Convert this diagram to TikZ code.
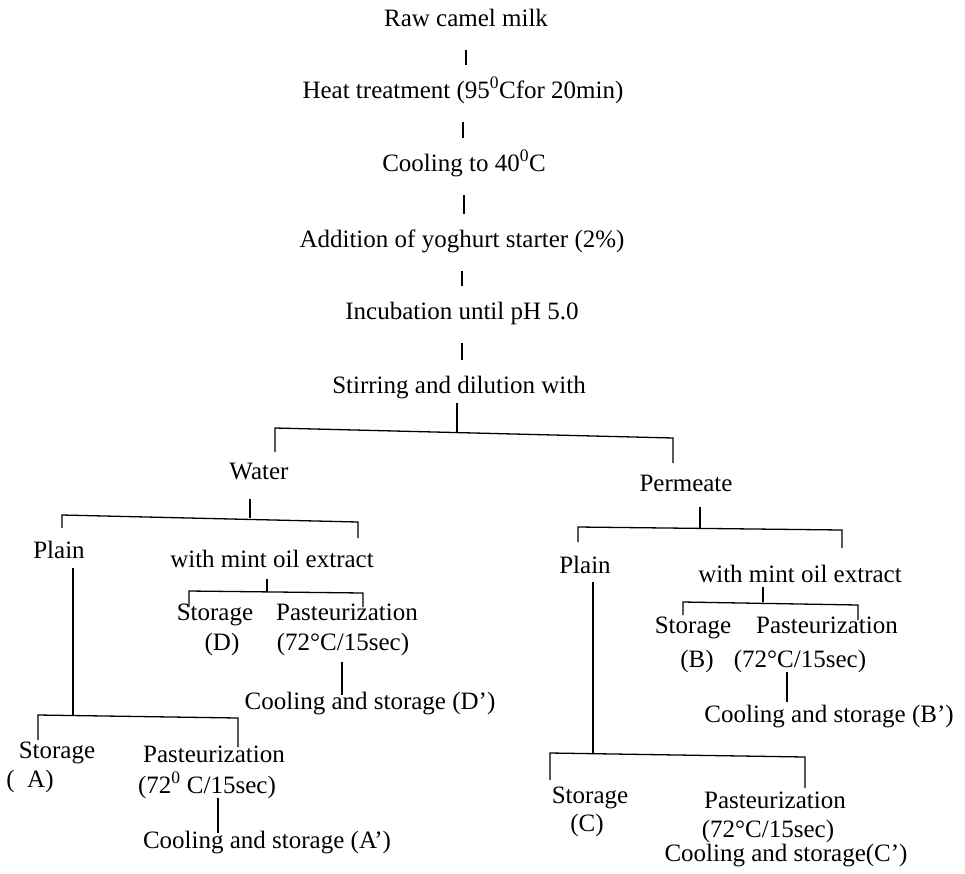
\documentclass[tikz,border=0pt]{standalone}
\usepackage{fontspec}
\setmainfont{Liberation Serif}
\begin{document}
\begin{tikzpicture}[x=1pt,y=-1pt,
  txt/.style={font=\fontsize{25}{29}\selectfont, inner sep=0pt, outer sep=0pt, text height=16pt, text depth=4pt, anchor=center},
  conn/.style={line width=1.3pt, black},
  link/.style={conn, shorten <=20pt, shorten >=17pt}]
\useasboundingbox (0,0) rectangle (965,873);
% main chain
\node[txt] (raw)  at (466,20)  {Raw camel milk};
\node[txt] (heat) at (463,92)  {Heat treatment (95\textsuperscript{0}Cfor 20min)};
\node[txt] (cool) at (464,165) {Cooling to 40\textsuperscript{0}C};
\node[txt] (add)  at (462,241) {Addition of yoghurt starter (2\%)};
\node[txt] (inc)  at (462,313) {Incubation until pH 5.0};
\node[txt] (stir) at (459,387) {Stirring and dilution with};
\draw[link] (raw.south) -- (raw.south |- heat.north);
\draw[link] (heat.south) -- (heat.south |- cool.north);
\draw[link] (cool.south) -- (cool.south |- add.north);
\draw[link] (add.south) -- (add.south |- inc.north);
\draw[link] (inc.south) -- (inc.south |- stir.north);
% second level
\node[txt] (water) at (259,473) {Water};
\node[txt] (perm)  at (686,485) {Permeate};
\coordinate (f1) at (457,433);
\coordinate (f1l) at (275,428);
\coordinate (f1r) at (673,438);
\coordinate (f1ld) at (275,452);
\coordinate (f1rd) at (673,463);
\draw[conn] ([yshift=-6pt]stir.south -| f1) -- (f1);
\draw[conn] (f1ld) -- (f1l) -- (f1r) -- (f1rd);
% water fork
\node[txt] (plainL) at (59,552)  {Plain};
\node[txt] (mintL)  at (272,561) {with mint oil extract};
\coordinate (f2) at (250,518);
\coordinate (f2l) at (62,515);
\coordinate (f2r) at (358,522);
\draw[conn] ([yshift=-16pt]water.south -| f2) -- (f2);
\draw[conn] (62,528) -- (f2l) -- (f2r) -- (358,538);
% mint left fork
\node[txt] (storD)  at (215,614) {Storage};
\node[txt] (storDl) at (222,644) {(D)};
\node[txt] (pastD)  at (347,614) {Pasteurization};
\node[txt] (pastDl) at (343,644) {(72°C/15sec)};
\node[txt] (coolD)  at (370,703) {Cooling and storage (D')};
\coordinate (f3) at (267,592);
\draw[conn] ([yshift=-8pt]mintL.south -| f3) -- (f3);
\draw[conn] (189,607) -- (189,591) -- (363,593) -- (363,607);
\draw[conn] ([yshift=-8pt]pastDl.south -| 342,0) -- ([yshift=-2pt]coolD.north -| 342,0);
% plain left fork
\node[txt] (storA)  at (57,752)  {Storage};
\node[txt] (storAl) at (30,781)  {( \ A)};
\node[txt] (pastA)  at (214,756) {Pasteurization};
\node[txt] (pastAl) at (207,787) {(72\textsuperscript{0} C/15sec)};
\node[txt] (coolA)  at (267,842) {Cooling and storage (A')};
\coordinate (f4) at (73,715);
\draw[conn] ([yshift=-6pt]plainL.south -| f4) -- (f4);
\draw[conn] (38,740) -- (38,715) -- (238,718) -- (238,747);
\draw[conn] ([yshift=-1pt]pastAl.south -| 218,0) -- ([yshift=-1pt]coolA.north -| 218,0);
% permeate fork
\node[txt] (plainR) at (585,567) {Plain};
\node[txt] (mintR)  at (800,576) {with mint oil extract};
\coordinate (f5) at (700,528);
\draw[conn] ([yshift=-12pt]perm.south -| f5) -- (f5);
\draw[conn] (578,542) -- (578,527) -- (842,530) -- (842,548);
% mint right fork
\node[txt] (storB)  at (693,627) {Storage};
\node[txt] (storBl) at (697,661) {(B)};
\node[txt] (pastB)  at (827,627) {Pasteurization};
\node[txt] (pastBl) at (800,661) {(72°C/15sec)};
\node[txt] (coolB)  at (829,716) {Cooling and storage (B')};
\coordinate (f6) at (763,602);
\draw[conn] ([yshift=-1pt]mintR.south -| f6) -- (f6);
\draw[conn] (683,615) -- (683,602) -- (858,605) -- (858,620);
\draw[conn] ([yshift=-1pt]pastBl.south -| 787,0) -- ([yshift=4pt]coolB.north -| 787,0);
% plain right fork
\node[txt] (storC)  at (590,797) {Storage};
\node[txt] (storCl) at (587,825) {(C)};
\node[txt] (pastC)  at (775,802) {Pasteurization};
\node[txt] (pastCl) at (768,831) {(72°C/15sec)};
\node[txt] (coolC)  at (786,855) {Cooling and storage(C')};
\coordinate (f7) at (593,754);
\draw[conn] ([yshift=-5pt]plainR.south -| f7) -- (f7);
\draw[conn] (550,780) -- (550,753) -- (805,757) -- (805,788);
\end{tikzpicture}
\end{document}
